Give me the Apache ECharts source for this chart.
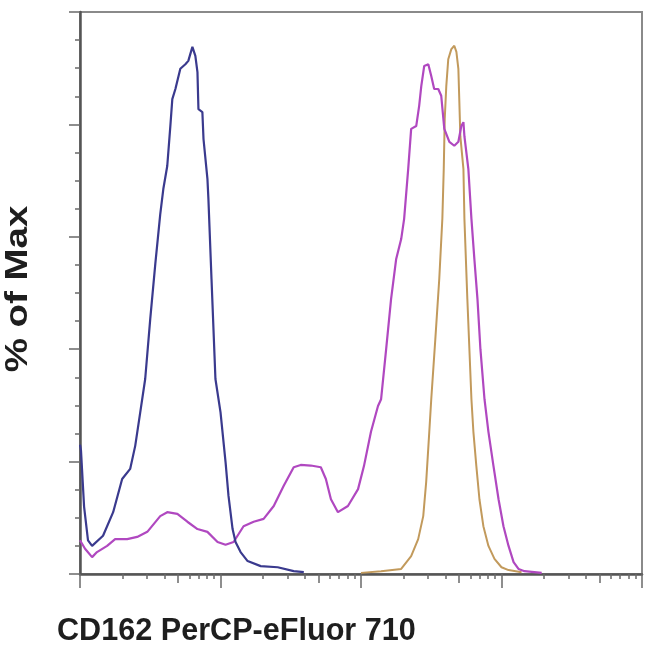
<!DOCTYPE html>
<html><head><meta charset="utf-8">
<script src="https://cdn.jsdelivr.net/npm/echarts@6/dist/echarts.min.js"></script>
<style>html,body{margin:0;padding:0;background:#fff}#c{width:650px;height:666px}</style>
</head><body><div id="c"></div>
<script>
const xTitle = 'CD162 PerCP-eFluor 710';
const yTitle = '% of Max';

// x values are in log decades (0..4) of fluorescence intensity
const blueX = [0.000,0.007,0.029,0.057,0.086,0.164,0.236,0.300,0.357,0.393,0.429,0.464,0.500,0.536,0.571,0.593,0.621,0.643,0.657,0.679,0.714,0.750,0.771,0.800,0.807,0.821,0.836,0.843,0.871,0.879,0.907,0.914,0.936,0.964,1.000,1.036,1.057,1.086,1.107,1.143,1.193,1.286,1.407,1.521,1.593];
const blueY = [23,22,12,6,5,6.8,11,16.9,18.7,22.8,28.8,34.7,45.4,55.2,64,68.5,72.6,79.7,84.5,86.3,89.9,90.7,91.3,93.8,94,92.2,89.3,82.7,82.2,77.4,70.3,66.7,52.5,34.7,28.8,19.9,13.9,8,5.7,3.9,2.3,1.4,1.2,0.5,0.35];

const magX = [0,0.036,0.086,0.121,0.193,0.250,0.336,0.407,0.479,0.571,0.621,0.693,0.764,0.836,0.907,0.979,1.036,1.093,1.164,1.236,1.307,1.379,1.450,1.521,1.571,1.643,1.714,1.750,1.786,1.836,1.907,1.979,2.021,2.071,2.121,2.143,2.179,2.214,2.250,2.286,2.307,2.336,2.357,2.393,2.414,2.429,2.450,2.479,2.500,2.521,2.550,2.571,2.593,2.629,2.664,2.693,2.714,2.729,2.736,2.764,2.786,2.807,2.829,2.850,2.879,2.907,2.943,2.979,3.014,3.050,3.086,3.121,3.164,3.286];
const magY = [6,4.5,3.0,3.9,5.0,6.2,6.2,6.6,7.5,10.3,11,10.7,9.3,8,7.5,5.7,5.2,5.7,8.5,9.3,9.8,12.1,15.7,19,19.4,19.3,19,16.9,13.3,11,12.1,15.1,19.2,25.3,29.9,31.1,40,48.9,56,59.6,63.2,72.1,79.2,79.7,83.3,86.8,90.4,90.7,88.6,86.3,86.3,85.1,79.2,76.9,76.2,76.9,79.7,80.4,77.9,72.1,63.2,56,48.9,40,31.1,25.3,19.2,13.3,8.5,5.0,2.1,0.9,0.5,0.2];

const orangeX = [2.000,2.143,2.286,2.357,2.407,2.443,2.464,2.486,2.500,2.529,2.557,2.579,2.589,2.596,2.607,2.621,2.643,2.664,2.679,2.693,2.700,2.707,2.729,2.736,2.757,2.786,2.800,2.821,2.843,2.871,2.907,2.950,3.000,3.050,3.143];
const orangeY = [0.2,0.5,0.9,3.2,6.2,10.3,16.4,25.3,31.1,41.8,52.5,63.2,72.1,81,86.8,91.6,93.4,94,92.9,89.9,84,77.9,72.1,63.2,48.9,31.1,25.3,19.2,13.3,8.5,5,2.7,1.2,0.7,0.3];

// log-axis tick positions (in decades)
const majorTicks = [0,1,2,3,4];
const fiveTicks = [0,1,2,3].map(d => d + Math.log10(5));
const minorTicks = [];
[0,1,2,3].forEach(d => [2,3,4,6,7,8,9].forEach(k => minorTicks.push(d + Math.log10(k))));

const pairs = (xs, ys) => xs.map((x, i) => [x, ys[i]]);

const chart = echarts.init(document.getElementById('c'), null, {renderer: 'canvas'});
const tickStyle = {color: '#6a6a6a', width: 1.5};
function xAx(ticks, len, showLine) {
  return {
    type: 'value', min: 0, max: 4, position: 'bottom', offset: 0,
    axisLine: {show: showLine, onZero: false, lineStyle: {color: '#555', width: 2.5}},
    axisTick: {show: true, customValues: ticks, length: len, lineStyle: tickStyle},
    axisLabel: {show: false},
    splitLine: {show: false}
  };
}
chart.setOption({
  animation: false,
  backgroundColor: '#fff',
  grid: {left: 80, right: 8, top: 12, bottom: 92, show: true, borderColor: '#8a8a8a', borderWidth: 2},
  xAxis: [xAx(majorTicks, 14, true), xAx(fiveTicks, 9, false), xAx(minorTicks, 5, false)],
  yAxis: {
    type: 'value', min: 0, max: 100, interval: 20,
    axisLine: {show: true, lineStyle: {color: '#555', width: 2.5}},
    axisTick: {show: true, length: 11, lineStyle: tickStyle},
    minorTick: {show: true, splitNumber: 4, length: 5, lineStyle: tickStyle},
    axisLabel: {show: false},
    splitLine: {show: false}
  },
  series: [
    {type: 'line', data: pairs(orangeX, orangeY), showSymbol: false, lineStyle: {color: '#c29a5c', width: 2}},
    {type: 'line', data: pairs(magX, magY), showSymbol: false, lineStyle: {color: '#b048c0', width: 2.2}},
    {type: 'line', data: pairs(blueX, blueY), showSymbol: false, lineStyle: {color: '#3a3a8e', width: 2.2}}
  ],
  graphic: [
    {type: 'text', left: 57, top: 616, style: {text: xTitle, fontSize: 30.6, fontWeight: 'bold', fontFamily: 'Liberation Sans, Arial, sans-serif', fill: '#1e1e1e'}},
    {type: 'text', x: 18, y: 289, rotation: Math.PI / 2, scaleX: 1.24,
     style: {text: yTitle, fontSize: 31, fontWeight: 'bold', fontFamily: 'Liberation Sans, Arial, sans-serif', fill: '#1e1e1e', align: 'center', verticalAlign: 'middle'}}
  ]
});
</script></body></html>
